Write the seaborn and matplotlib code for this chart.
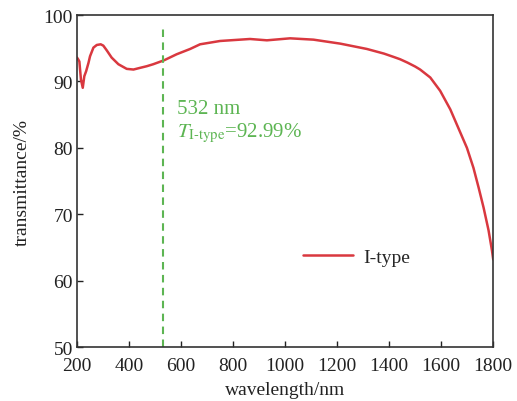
import matplotlib
matplotlib.use("Agg")
import matplotlib.pyplot as plt
import seaborn as sns
import pandas as pd

wavelength = [200, 205, 209, 215, 222, 228, 235, 244, 250, 263, 276, 291, 301, 314, 333, 359,
              391, 417, 442, 468, 493, 535, 583, 635, 673, 750, 865, 930, 1019, 1109, 1212,
              1314, 1380, 1417, 1442, 1470, 1500, 1519, 1558, 1596, 1635, 1667, 1699, 1724,
              1744, 1763, 1782, 1795, 1800]
transmittance = [93.6, 93.3, 93.0, 90.3, 89.05, 90.8, 91.55, 92.8, 93.8, 95.1, 95.5, 95.6, 95.4,
                 94.7, 93.6, 92.6, 91.9, 91.8, 92.05, 92.3, 92.6, 93.2, 94.1, 94.9, 95.6, 96.1,
                 96.4, 96.2, 96.5, 96.3, 95.7, 94.9, 94.2, 93.7, 93.35, 92.85, 92.25, 91.8, 90.6,
                 88.6, 85.8, 82.9, 80.0, 77.0, 74.0, 71.0, 67.6, 64.6, 63.2]
series_name = "I-type"
marker_wl = 532
marker_T = 92.99
x_ticks = [200, 400, 600, 800, 1000, 1200, 1400, 1600, 1800]
y_ticks = [50, 60, 70, 80, 90, 100]

sns.set_theme(style="ticks")
plt.rcParams["font.family"] = ["Liberation Serif", "DejaVu Serif"]
plt.rcParams["mathtext.fontset"] = "stix"

df = pd.DataFrame({"wavelength": wavelength, "T": transmittance, "type": series_name})

fig = plt.figure(figsize=(5.17, 4.02), dpi=100)
ax = fig.add_axes([0.149, 0.134, 0.805, 0.826])

red = "#d9383f"
green = "#5db553"

sns.lineplot(data=df, x="wavelength", y="T", hue="type", palette=[red], ax=ax,
             linewidth=1.8, sort=True, estimator=None)
ax.plot([marker_wl, marker_wl], [50, 98.3], color=green, lw=1.5, dashes=(3.6, 2.6))

ax.text(583, 85.3, f"{marker_wl} nm", color=green, fontsize=15, va="baseline")
ax.text(583, 81.7, r"$T_{\text{I-type}}$" + f"={marker_T:.2f}%", color=green,
        fontsize=15, va="baseline")

ax.set_xlim(200, 1800)
ax.set_ylim(50, 100)
ax.set_xticks(x_ticks)
ax.set_yticks(y_ticks)
ax.tick_params(direction="in", labelsize=14, length=4, width=1, colors="#222222")
ax.tick_params(axis="x", pad=7)
ax.tick_params(axis="y", pad=3)
for s in ax.spines.values():
    s.set_color("#333333")
    s.set_linewidth(1.2)
ax.set_xlabel("wavelength/nm", fontsize=14, labelpad=5, color="#222222")
ax.set_ylabel("transmittance/%", fontsize=14, labelpad=9, color="#222222")

leg = ax.legend(loc="center left", bbox_to_anchor=(0.50, 0.27), frameon=False,
                fontsize=14, handlelength=2.6, handletextpad=0.5)

fig.savefig("out.png", dpi=100)
